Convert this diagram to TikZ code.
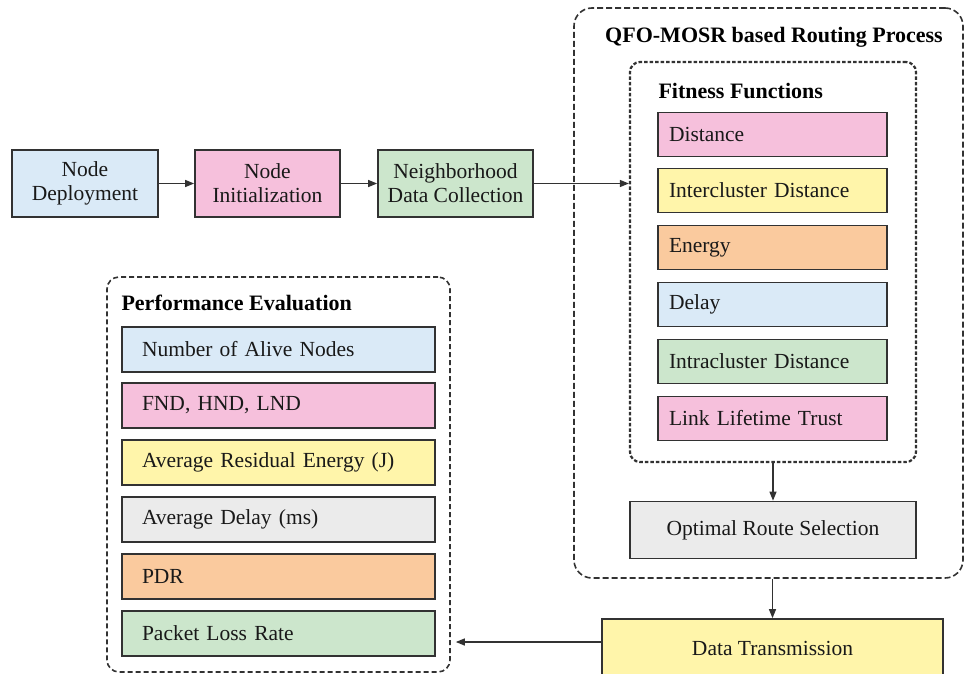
\documentclass[tikz,border=0pt]{standalone}
\usepackage{fontspec}
\setmainfont{Liberation Serif}
\usetikzlibrary{arrows.meta}
\definecolor{cblue}{RGB}{218,234,247}
\definecolor{cpink}{RGB}{246,192,220}
\definecolor{cyellow}{RGB}{255,245,170}
\definecolor{corange}{RGB}{250,202,158}
\definecolor{cgreen}{RGB}{204,230,204}
\definecolor{cgrey}{RGB}{235,235,235}
\definecolor{cline}{RGB}{50,50,50}
\begin{document}
\begin{tikzpicture}[x=1pt,y=-1pt,
  font=\fontsize{21.5}{24}\selectfont,
  box/.style={draw=cline, line width=1.7pt, inner sep=0pt, align=center, text=black!90},
  fitbox/.style={box, minimum width=229pt, minimum height=44pt, text width=207pt, align=left, inner xsep=11pt},
  perfbox/.style={box, minimum width=313pt, minimum height=45pt, text width=273pt, align=left, inner xsep=20pt},
  arr/.style={draw=cline, line width=1.3pt, -{Triangle[length=9pt,width=7pt]}},
  grp/.style={draw=cline, line width=1.6pt, minimum width=#1, inner sep=0pt},
  ttl/.style={font=\fontsize{22}{24}\selectfont\bfseries},
]
\useasboundingbox (0,0) rectangle (964,674);
% top row
\node[box, fill=cblue, minimum width=146pt, minimum height=67pt] (nd) at (85,183.5) {Node\\Deployment};
\node[box, fill=cpink, minimum width=145pt, minimum height=67pt] (ni) at (267.5,183.5) {Node\\Initialization};
\node[box, fill=cgreen, minimum width=155pt, minimum height=67pt] (nc) at (455.5,183.5) {Neighborhood\\Data Collection};
% routing process group
\node[grp=389pt, minimum height=570pt, rounded corners=18pt, dash pattern=on 6pt off 3pt] (outer) at (768.5,293) {};
\node[ttl] (otitle) at (774,37) {QFO-MOSR based Routing Process};
\node[grp=286pt, minimum height=400pt, rounded corners=10pt, line width=2.2pt, dash pattern=on 3.5pt off 2pt] (inner) at (773,262) {};
\node[ttl, anchor=west] (ftitle) at (655,91) {Fitness Functions};
\node[fitbox, fill=cpink] (f1) at (772.5,134.5) {Distance};
\node[fitbox, fill=cyellow] (f2) at (772.5,190.5) {Intercluster Distance};
\node[fitbox, fill=corange] (f3) at (772.5,247.5) {Energy};
\node[fitbox, fill=cblue] (f4) at (772.5,304.5) {Delay};
\node[fitbox, fill=cgreen] (f5) at (772.5,361.5) {Intracluster Distance};
\node[fitbox, fill=cpink] (f6) at (772.5,418.5) {Link Lifetime Trust};
\node[box, fill=cgrey, minimum width=286pt, minimum height=57pt] (opt) at (773,530) {Optimal Route Selection};
\node[box, fill=cyellow, minimum width=341pt, minimum height=58pt] (dt) at (772.5,648) {Data Transmission};
% performance group
\node[grp=343pt, minimum height=395pt, rounded corners=12pt, dash pattern=on 5pt off 3pt] (perf) at (278.5,474.5) {};
\node[ttl, anchor=west] (ptitle) at (118,303) {Performance Evaluation};
\node[perfbox, fill=cblue] (p1) at (278.5,349.5) {Number of Alive Nodes};
\node[perfbox, fill=cpink] (p2) at (278.5,405.5) {FND, HND, LND};
\node[perfbox, fill=cyellow] (p3) at (278.5,462.5) {Average Residual Energy (J)};
\node[perfbox, fill=cgrey] (p4) at (278.5,519.5) {Average Delay (ms)};
\node[perfbox, fill=corange] (p5) at (278.5,576.5) {PDR};
\node[perfbox, fill=cgreen] (p6) at (278.5,633.5) {Packet Loss Rate};
% connectors
\draw[arr] (nd.east) -- (ni.west);
\draw[arr] (ni.east) -- (nc.west);
\draw[arr] (nc.east) -- (nc.east -| inner.west);
\draw[arr] (inner.south) -- (opt.north);
\draw[arr] (dt.north |- outer.south) -- (dt.north);
\coordinate (dtin) at ([yshift=6pt]dt.west);
\draw[arr, shorten >=5pt] (dtin) -- (dtin -| perf.east);
\end{tikzpicture}
\end{document}
